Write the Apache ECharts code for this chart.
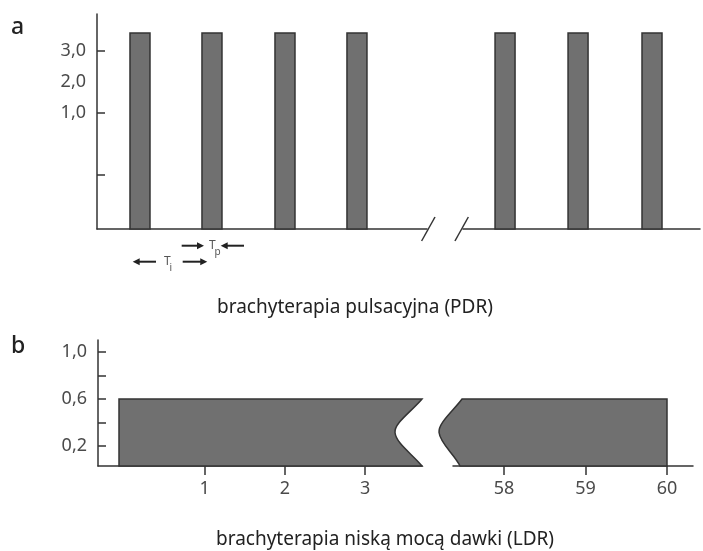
<!DOCTYPE html>
<html><head><meta charset="utf-8">
<script src="https://cdn.jsdelivr.net/npm/echarts@6/dist/echarts.min.js"></script>
<style>html,body{margin:0;padding:0;background:#fff}#c{width:703px;height:551px}</style>
</head><body><div id="c"></div>
<script>
// ---- Panel a: pulsed dose rate (PDR) ----
const pdrPulseStart = [0.455, 1.448, 2.455, 3.448, 5.49, 6.497, 7.517];
const pdrPulseEnd   = [0.731, 1.724, 2.731, 3.724, 5.766, 6.773, 7.793];
const pdrPulseLevel = [3.58, 3.58, 3.58, 3.58, 3.58, 3.58, 3.58];
const pdrYLabels = [1, 2, 3];
const pdrYTicks = [-1, 1, 3];
const pdrBreakMarks = [4.57, 5.03];
// annotations Tp / Ti
const annArrowTail = [1.168, 2.028, 0.814, 1.182];
const annArrowTip  = [1.476, 1.706, 0.492, 1.521];
const annArrowRow  = [0, 0, 1, 1];
const annTextX    = [1.545, 0.924];
const annTextMain = ['T', 'T'];
const annTextSub  = ['p', 'i'];
const annTextRow  = [0, 1];
const panelTitles = ['brachyterapia pulsacyjna (PDR)', 'brachyterapia niską mocą dawki (LDR)'];

// ---- Panel b: low dose rate (LDR) ----
const ldrStart = [-0.07, 57.485];
const ldrEnd   = [3.71, 60];
const ldrRate  = [0.6, 0.6];
const ldrWaveSide = [0, 1];
const ldrXTicksLeft = [1, 2, 3];
const ldrXTicksRight = [58, 59, 60];
const ldrYTicks = [0.2, 0.4, 0.6, 0.8, 1.0];
const ldrYLabels = [0.2, 0.6, 1.0];

// axis ranges
const PDR_Y_MIN = -2.74, PDR_Y_MAX = 4.196;
const LDR_Y_MIN = 0.03, LDR_Y_MAX = 1.102;
const PDR_X_LEFT = [0, 4.552], PDR_X_RIGHT = [5.048, 8.317];
const LDR_X_LEFT = [-0.332, 3.71], LDR_X_RIGHT = [57.374, 60.319];

const FONT = '"Noto Sans", "Open Sans", sans-serif';
const LINE = '#333';
const FILL = '#707070';
const ROW_OFFSET = [16.7, 32.7];
const fmt = v => Number(v).toFixed(1).replace('.', ',');

const chart = echarts.init(document.getElementById('c'), null, {renderer: 'canvas'});

const pulses = pdrPulseStart.map((s, i) => [s, pdrPulseEnd[i], pdrPulseLevel[i]]);
const pulsesLeft = pulses.filter(p => p[1] <= PDR_X_LEFT[1]);
const pulsesRight = pulses.filter(p => p[0] >= PDR_X_RIGHT[0]);

function pulseItem(params, api) {
  const p0 = api.coord([api.value(0), api.value(2)]);
  const p1 = api.coord([api.value(1), PDR_Y_MIN]);
  return {type: 'rect', shape: {x: p0[0], y: p0[1], width: p1[0] - p0[0], height: p1[1] - p0[1]},
    style: {fill: FILL, stroke: LINE, lineWidth: 1.5}};
}
function breakItem(params, api) {
  const c = api.coord([api.value(0), PDR_Y_MIN]);
  return {type: 'line', shape: {x1: c[0] - 6.7, y1: c[1] + 12, x2: c[0] + 6.7, y2: c[1] - 12},
    style: {stroke: LINE, lineWidth: 1.5}};
}
function arrowItem(params, api) {
  const t = api.coord([api.value(0), PDR_Y_MIN]);
  const h = api.coord([api.value(1), PDR_Y_MIN]);
  const y = t[1] + ROW_OFFSET[api.value(2)];
  const dir = h[0] > t[0] ? 1 : -1;
  const tip = h[0];
  return {type: 'group', children: [
    {type: 'line', shape: {x1: t[0], y1: y, x2: tip - dir * 5, y2: y}, style: {stroke: '#222', lineWidth: 2}},
    {type: 'polygon', shape: {points: [[tip, y], [tip - dir * 7, y - 3.5], [tip - dir * 7, y + 3.5]]}, style: {fill: '#222'}}
  ]};
}
function labelItem(params, api) {
  const c = api.coord([api.value(0), PDR_Y_MIN]);
  const y = c[1] + ROW_OFFSET[api.value(1)];
  const i = params.dataIndex;
  return {type: 'group', children: [
    {type: 'text', style: {text: annTextMain[i], x: c[0], y: y, fill: '#555', font: '12px ' + FONT,
      textAlign: 'left', textVerticalAlign: 'middle', align: 'left', verticalAlign: 'middle'}},
    {type: 'text', style: {text: annTextSub[i], x: c[0] + 5.5, y: y + 6, fill: '#555', font: '10px ' + FONT,
      textAlign: 'left', textVerticalAlign: 'middle', align: 'left', verticalAlign: 'middle'}}
  ]};
}
function ldrItem(params, api) {
  const a = api.coord([api.value(0), api.value(2)]);
  const b = api.coord([api.value(1), LDR_Y_MIN]);
  const L = a[0], T = a[1], R = b[0], B = b[1], H = B - T;
  let d;
  if (api.value(3) === 0) {
    d = `M${L},${B} L${L},${T} L${R},${T} C${R - 10},${T + 0.18 * H} ${R - 28},${T + 0.36 * H} ${R - 27},${T + 0.5 * H} C${R - 26},${T + 0.66 * H} ${R - 10},${T + 0.82 * H} ${R},${B} Z`;
  } else {
    d = `M${R},${B} L${R},${T} L${L},${T} C${L - 9},${T + 0.18 * H} ${L - 24},${T + 0.36 * H} ${L - 23},${T + 0.5 * H} C${L - 22},${T + 0.66 * H} ${L - 8},${T + 0.82 * H} ${L - 2},${B} Z`;
  }
  return {type: 'path', shape: {pathData: d}, style: {fill: FILL, stroke: LINE, lineWidth: 1.5}};
}

const axisLineStyle = {color: LINE, width: 1.5};
const labelStyle = {fontFamily: FONT, fontSize: 18, color: '#4a4a4a'};

function xAxisTop(grid, range) {
  return {gridIndex: grid, type: 'value', min: range[0], max: range[1],
    axisLine: {show: true, onZero: false, lineStyle: axisLineStyle},
    axisTick: {show: false}, axisLabel: {show: false}, splitLine: {show: false}};
}
function xAxisBottom(grid, range, ticks) {
  return {gridIndex: grid, type: 'value', min: range[0], max: range[1],
    axisLine: {show: true, onZero: false, lineStyle: axisLineStyle},
    axisTick: {show: true, length: 9, customValues: ticks, lineStyle: axisLineStyle},
    axisLabel: Object.assign({show: true, customValues: ticks, margin: 14}, labelStyle),
    splitLine: {show: false}};
}

const option = {
  animation: false,
  backgroundColor: '#fff',
  grid: [
    {left: 97, top: 14, width: 330, height: 215},
    {left: 463, top: 14, width: 237, height: 215},
    {left: 98, top: 340, width: 324, height: 126},
    {left: 453, top: 340, width: 240, height: 126}
  ],
  xAxis: [
    xAxisTop(0, PDR_X_LEFT),
    xAxisTop(1, PDR_X_RIGHT),
    xAxisBottom(2, LDR_X_LEFT, ldrXTicksLeft),
    xAxisBottom(3, LDR_X_RIGHT, ldrXTicksRight)
  ],
  yAxis: [
    {gridIndex: 0, type: 'value', min: PDR_Y_MIN, max: PDR_Y_MAX,
      axisLine: {show: true, onZero: false, lineStyle: axisLineStyle},
      axisTick: {show: true, inside: true, length: 8, customValues: pdrYTicks, lineStyle: axisLineStyle},
      axisLabel: Object.assign({show: true, customValues: pdrYLabels, margin: 11, formatter: fmt}, labelStyle),
      splitLine: {show: false}},
    {gridIndex: 1, type: 'value', min: PDR_Y_MIN, max: PDR_Y_MAX, show: false},
    {gridIndex: 2, type: 'value', min: LDR_Y_MIN, max: LDR_Y_MAX,
      axisLine: {show: true, onZero: false, lineStyle: axisLineStyle},
      axisTick: {show: true, inside: true, length: 8, customValues: ldrYTicks, lineStyle: axisLineStyle},
      axisLabel: Object.assign({show: true, customValues: ldrYLabels, margin: 11, formatter: fmt}, labelStyle),
      splitLine: {show: false}},
    {gridIndex: 3, type: 'value', min: LDR_Y_MIN, max: LDR_Y_MAX, show: false}
  ],
  series: [
    {type: 'custom', xAxisIndex: 0, yAxisIndex: 0, clip: false, renderItem: pulseItem, data: pulsesLeft, encode: {x: [0, 1], y: 2}},
    {type: 'custom', xAxisIndex: 1, yAxisIndex: 1, clip: false, renderItem: pulseItem, data: pulsesRight, encode: {x: [0, 1], y: 2}},
    {type: 'custom', xAxisIndex: 0, yAxisIndex: 0, clip: false, renderItem: breakItem,
      data: pdrBreakMarks.map(v => [v]), encode: {x: 0}},
    {type: 'custom', xAxisIndex: 0, yAxisIndex: 0, clip: false, renderItem: arrowItem,
      data: annArrowTail.map((t, i) => [t, annArrowTip[i], annArrowRow[i]]), encode: {x: [0, 1]}},
    {type: 'custom', xAxisIndex: 0, yAxisIndex: 0, clip: false, renderItem: labelItem,
      data: annTextX.map((x, i) => [x, annTextRow[i]]), encode: {x: 0}},
    {type: 'custom', xAxisIndex: 2, yAxisIndex: 2, clip: false, renderItem: ldrItem,
      data: [[ldrStart[0], ldrEnd[0], ldrRate[0], ldrWaveSide[0]]], encode: {x: [0, 1], y: 2}},
    {type: 'custom', xAxisIndex: 3, yAxisIndex: 3, clip: false, renderItem: ldrItem,
      data: [[ldrStart[1], ldrEnd[1], ldrRate[1], ldrWaveSide[1]]], encode: {x: [0, 1], y: 2}}
  ],
  graphic: [
    {type: 'text', x: 11, y: 27, style: {text: 'a', font: '500 23px ' + FONT, fill: '#222',
      textAlign: 'left', textVerticalAlign: 'middle', align: 'left', verticalAlign: 'middle'}},
    {type: 'text', x: 11, y: 346, style: {text: 'b', font: '500 23px ' + FONT, fill: '#222',
      textAlign: 'left', textVerticalAlign: 'middle', align: 'left', verticalAlign: 'middle'}},
    {type: 'text', x: 355, y: 308, style: {text: panelTitles[0], font: '19px ' + FONT, fill: '#222',
      textAlign: 'center', textVerticalAlign: 'middle', align: 'center', verticalAlign: 'middle'}},
    {type: 'text', x: 385, y: 540, style: {text: panelTitles[1], font: '19px ' + FONT, fill: '#222',
      textAlign: 'center', textVerticalAlign: 'middle', align: 'center', verticalAlign: 'middle'}}
  ]
};
chart.setOption(option);
</script>
</body></html>
